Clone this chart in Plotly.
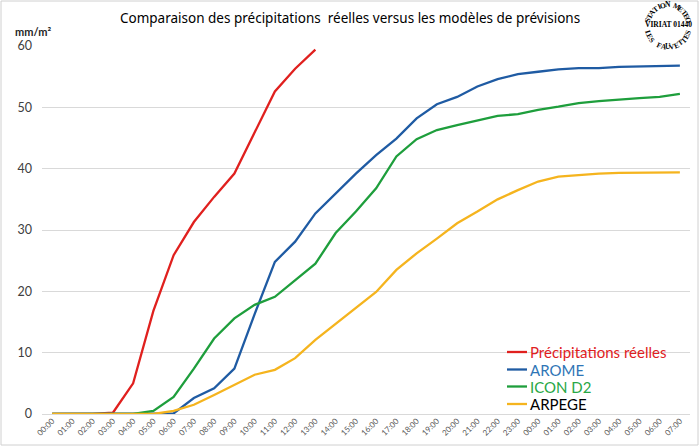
import math
import plotly.graph_objects as go

# ---------------- data ----------------
hour_labels = ["00:00", "01:00", "02:00", "03:00", "04:00", "05:00", "06:00", "07:00",
               "08:00", "09:00", "10:00", "11:00", "12:00", "13:00", "14:00", "15:00",
               "16:00", "17:00", "18:00", "19:00", "20:00", "21:00", "22:00", "23:00",
               "00:00", "01:00", "02:00", "03:00", "04:00", "05:00", "06:00", "07:00"]

reel = [0, 0, 0, 0.2, 5.0, 16.8, 25.9, 31.3, 35.4, 39.2, 45.8, 52.6, 56.3, 59.4,
        None, None, None, None, None, None, None, None, None, None,
        None, None, None, None, None, None, None, None]
arome = [0, 0, 0, 0, 0, 0, 0.1, 2.6, 4.2, 7.4, 16.3, 24.8, 28.1, 32.7, 36.0, 39.2,
         42.2, 44.9, 48.2, 50.5, 51.7, 53.4, 54.6, 55.4, 55.8, 56.2, 56.4, 56.4,
         56.6, 56.7, 56.8, 56.8]
icon_d2 = [0, 0, 0, 0, 0, 0.5, 2.8, 7.4, 12.3, 15.6, 17.8, 19.1, 21.8, 24.5, 29.5,
           33.0, 36.8, 42.0, 44.8, 46.3, 47.1, 47.9, 48.6, 48.9, 49.6, 50.1, 50.7,
           51.0, 51.3, 51.5, 51.7, 52.2]
arpege = [0, 0, 0, 0, 0, 0, 0.5, 1.5, 3.1, 4.7, 6.4, 7.2, 9.1, 12.1, 14.7, 17.2,
          19.9, 23.5, 26.2, 28.6, 31.1, 33.0, 35.0, 36.5, 37.9, 38.7, 39.0, 39.2,
          39.3, 39.3, 39.4, 39.4]

series_names = ["Précipitations réelles", "AROME", "ICON D2", "ARPEGE"]
y_ticks = [0, 10, 20, 30, 40, 50, 60]

title_text = "Comparaison des précipitations &nbsp;réelles versus les modèles de prévisions"
unit_text = "<b>mm/m²</b>"
logo_top = "STATION METEO"
logo_mid = "VIRIAT 01440"
logo_bottom = "LES FAUVETTES"

# ---------------- figure ----------------
W, H = 700, 447
ML, MR, MT, MB = 42, 10, 46, 33
PW, PH = W - ML - MR, H - MT - MB

line_colors = ["#E0201E", "#1F5BA3", "#1E9E3C", "#F5B41E"]
text_colors = ["#E0201E", "#2E75B6", "#28A745", "#000000"]
x_idx = list(range(len(hour_labels)))

fig = go.Figure()
for name, vals, lc in zip(series_names, [reel, arome, icon_d2, arpege], line_colors):
    fig.add_trace(go.Scatter(
        x=x_idx, y=vals, mode="lines", name=name,
        line=dict(color=lc, width=2.3),
        connectgaps=False, showlegend=False,
    ))


def px_to_paper(px, py):
    return (px - ML) / PW, (H - MB - py) / PH


annotations = []
shapes = []

tx, ty = px_to_paper(350, 18)
annotations.append(dict(text=title_text, x=tx, y=ty, xref="paper", yref="paper",
                        showarrow=False, xanchor="center", yanchor="middle",
                        font=dict(family="Noto Sans", size=13.5, color="#000000")))
ux, uy = px_to_paper(33, 32)
annotations.append(dict(text=unit_text, x=ux, y=uy, xref="paper", yref="paper",
                        showarrow=False, xanchor="center", yanchor="middle",
                        font=dict(family="Lato", size=11, color="#262626")))

# legend (drawn by hand to match spacing)
leg_y = [352, 369.5, 386.5, 404]
for name, lc, tc, yy in zip(series_names, line_colors, text_colors, leg_y):
    x0, y0 = px_to_paper(507, yy)
    x1, _ = px_to_paper(527, yy)
    shapes.append(dict(type="line", xref="paper", yref="paper", x0=x0, y0=y0, x1=x1, y1=y0,
                       line=dict(color=lc, width=2.3)))
    xt, yt = px_to_paper(528, yy)
    annotations.append(dict(text=name, x=xt, y=yt, xref="paper", yref="paper",
                            showarrow=False, xanchor="left", yanchor="middle",
                            font=dict(family="Lato", size=15, color=tc)))

# logo stamp
cx, cy, r = 668, 26, 21
logo_font = dict(family="Liberation Serif", size=7.5, color="#000000")
n = len(logo_top)
for i, ch in enumerate(logo_top):
    th = math.radians(165 - i * (150 / (n - 1)))
    px_, py_ = cx + r * math.cos(th), cy - r * math.sin(th)
    ax_, ay_ = px_to_paper(px_, py_)
    annotations.append(dict(text=f"<b>{ch}</b>", x=ax_, y=ay_, xref="paper", yref="paper",
                            showarrow=False, xanchor="center", yanchor="middle",
                            textangle=90 - math.degrees(th), font=logo_font))
n = len(logo_bottom)
for i, ch in enumerate(logo_bottom):
    th = math.radians(198 + i * (144 / (n - 1)))
    px_, py_ = cx + r * math.cos(th), cy - r * math.sin(th)
    ax_, ay_ = px_to_paper(px_, py_)
    annotations.append(dict(text=f"<b>{ch}</b>", x=ax_, y=ay_, xref="paper", yref="paper",
                            showarrow=False, xanchor="center", yanchor="middle",
                            textangle=270 - math.degrees(th), font=logo_font))
mx, my = px_to_paper(cx, cy - 1)
annotations.append(dict(text=f"<b>{logo_mid}</b>", x=mx, y=my, xref="paper", yref="paper",
                        showarrow=False, xanchor="center", yanchor="middle",
                        font=dict(family="Liberation Serif", size=7.5, color="#000000")))

bx0, by0 = px_to_paper(1, 445)
bx1, by1 = px_to_paper(698, 1)
shapes.append(dict(type="rect", xref="paper", yref="paper", x0=bx0, y0=by0, x1=bx1, y1=by1,
                   line=dict(color="#D0D0D0", width=1), fillcolor="rgba(0,0,0,0)", layer="below"))

fig.update_layout(
    template="none",
    width=W, height=H,
    margin=dict(l=ML, r=MR, t=MT, b=MB, autoexpand=False),
    paper_bgcolor="white", plot_bgcolor="white",
    font=dict(family="Lato", color="#404040"),
    showlegend=False,
    annotations=annotations,
    shapes=shapes,
    xaxis=dict(
        range=[-0.5, len(hour_labels) - 0.5],
        tickmode="array", tickvals=x_idx, ticktext=hour_labels,
        tickangle=-45, tickfont=dict(family="Lato", size=8, color="#595959"),
        showgrid=False, zeroline=False, showline=False, ticks="",
        automargin=False, fixedrange=True,
    ),
    yaxis=dict(
        range=[0, 60], tickmode="array", tickvals=y_ticks,
        tickfont=dict(family="Lato", size=12.5, color="#404040"),
        showgrid=True, gridcolor="#D9D9D9", gridwidth=1,
        zeroline=True, zerolinecolor="#D9D9D9", zerolinewidth=1,
        showline=False, ticks="", ticklabelstandoff=9,
        automargin=False, fixedrange=True,
    ),
)

fig.write_html("out.html", config={"displayModeBar": False},
               post_script="document.body.style.margin='0';document.body.style.overflow='hidden';")
